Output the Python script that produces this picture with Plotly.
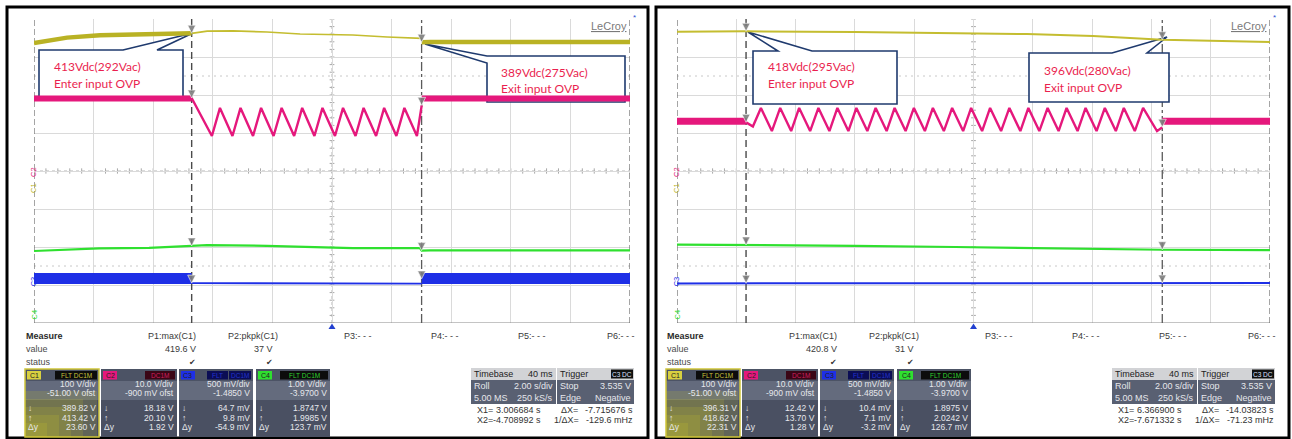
import plotly.graph_objects as go

W, H = 1292, 439
GY0, GY1 = 19, 323
YC = (GY0 + GY1) / 2.0
PPD = (GY1 - GY0) / 8.0

# ---------------- channel settings ----------------
CHANNELS = ["C1", "C2", "C3", "C4"]
VDIV = [100.0, 10.0, 0.5, 1.0]          # V/div
OFFS = [-51.0, -0.9, -1.485, -3.97]     # V offset
COLORS = ["#b9b224", "#e5187c", "#1e2fe6", "#2fe02f"]

# ---------------- left capture (enter 413Vdc / exit 389Vdc) ----------------
L_X1, L_X2 = 3.006684, -4.708992
L_C1_A_T = [-10.0, -8.89, -7.79, -6.68, -5.54, -4.71]
L_C1_A_V = [388.0, 402.0, 408.5, 411.0, 413.0, 413.4]
L_C1_B_T = [-4.71, -4.19, -3.32, -2.18, -1.07, -0.07, 0.70, 1.85, 2.95, 3.01]
L_C1_B_V = [413.4, 419.0, 419.6, 416.8, 411.5, 409.0, 408.9, 403.6, 401.3, 400.0]
L_C1_C_T = [3.01, 3.30, 10.0]
L_C1_C_V = [389.8, 390.5, 390.5]
L_C2_PRE_T = [-10.0, -4.71]
L_C2_PRE_V = [20.0, 20.0]
L_C2_SAW_T = [-4.71, -4.03, -3.76, -3.34, -3.07, -2.65, -2.38, -1.96, -1.69, -1.27, -1.00,
              -0.59, -0.32, 0.10, 0.37, 0.79, 1.06, 1.48, 1.75, 2.16, 2.43, 2.85, 3.01]
L_C2_SAW_V = [20.1, 10.1, 17.5, 10.1, 17.5, 10.1, 17.5, 10.1, 17.5, 10.1, 17.5,
              10.1, 17.5, 10.1, 17.5, 10.1, 17.5, 10.1, 17.5, 10.1, 17.5, 10.1, 18.18]
L_C2_POST_T = [3.01, 10.0]
L_C2_POST_V = [20.0, 20.0]
L_C3_PRE_T = [-10.0, -4.71]
L_C3_PRE_V = [0.07, 0.07]
L_C3_MID_T = [-4.71, 0.0, 3.01]
L_C3_MID_V = [0.0098, 0.004, 0.004]
L_C3_POST_T = [3.01, 10.0]
L_C3_POST_V = [0.07, 0.07]
L_C4_T = [-10.0, -7.82, -6.14, -4.71, -4.19, -2.18, -0.07, 0.70, 2.95, 3.01, 3.30, 10.0]
L_C4_V = [1.865, 1.935, 1.945, 1.9985, 2.02, 2.0, 1.945, 1.94, 1.94, 1.8747, 1.88, 1.88]
L_DOWN = [389.82, 18.18, 0.0647, 1.8747]   # at X1
L_UP = [413.42, 20.10, 0.0098, 1.9985]     # at X2

# ---------------- right capture (enter 418Vdc / exit 396Vdc) ----------------
R_X1, R_X2 = 6.366900, -7.671332
R_C1_T = [-10.0, -7.67, -4.0, -0.62, 1.80, 4.03, 6.37, 10.0]
R_C1_V = [417.5, 418.6, 417.0, 414.2, 411.5, 406.3, 396.3, 390.5]
R_C2_PRE_T = [-10.0, -7.67]
R_C2_PRE_V = [14.0, 14.0]
R_C2_SAW_T = [-7.67, -7.44, -7.17, -6.80, -6.52, -6.15, -5.88, -5.51, -5.23, -4.86, -4.59,
              -4.22, -3.95, -3.58, -3.30, -2.93, -2.66, -2.29, -2.01, -1.64, -1.37, -1.00,
              -0.72, -0.35, -0.08, 0.29, 0.56, 0.93, 1.21, 1.58, 1.85, 2.22, 2.50, 2.87,
              3.14, 3.51, 3.78, 4.15, 4.43, 4.80, 5.07, 5.44, 5.72, 6.19, 6.37]
R_C2_SAW_V = [13.7, 12.6, 17.5, 11.4, 17.5, 11.4, 17.5, 11.4, 17.5, 11.4, 17.5,
              11.4, 17.5, 11.4, 17.5, 11.4, 17.5, 11.4, 17.5, 11.4, 17.5, 11.4,
              17.5, 11.4, 17.5, 11.4, 17.5, 11.4, 17.5, 11.4, 17.5, 11.4, 17.5, 11.4,
              17.5, 11.4, 17.5, 11.4, 17.5, 11.4, 17.5, 11.4, 17.5, 11.4, 12.42]
R_C2_POST_T = [6.37, 10.0]
R_C2_POST_V = [14.0, 14.0]
R_C3_T = [-10.0, -7.67, -4.0, 0.0, 4.0, 6.37, 10.0]
R_C3_V = [0.006, 0.0071, 0.008, 0.010, 0.009, 0.0104, 0.010]
R_C4_T = [-10.0, -7.67, -4.0, -0.62, 1.80, 4.03, 6.37, 10.0]
R_C4_V = [2.035, 2.0242, 2.0, 1.97, 1.945, 1.92, 1.8975, 1.89]
R_DOWN = [396.31, 12.42, 0.0104, 1.8975]
R_UP = [418.62, 13.70, 0.0071, 2.0242]

# ---------------- table texts ----------------
L_MEAS = ["419.6 V", "37 V"]
R_MEAS = ["420.8 V", "31 V"]
VDIV_TXT = ["100 V/div", "10.0 V/div", "500 mV/div", "1.00 V/div"]
OFS_TXT = ["-51.00 V ofst", "-900 mV ofst", "-1.4850 V", "-3.9700 V"]
L_DOWN_TXT = ["389.82 V", "18.18 V", "64.7 mV", "1.8747 V"]
L_UP_TXT = ["413.42 V", "20.10 V", "9.8 mV", "1.9985 V"]
L_DY_TXT = ["23.60 V", "1.92 V", "-54.9 mV", "123.7 mV"]
R_DOWN_TXT = ["396.31 V", "12.42 V", "10.4 mV", "1.8975 V"]
R_UP_TXT = ["418.62 V", "13.70 V", "7.1 mV", "2.0242 V"]
R_DY_TXT = ["22.31 V", "1.28 V", "-3.2 mV", "126.7 mV"]
TB_TXT = ["40 ms", "2.00 s/div", "5.00 MS", "250 kS/s", "3.535 V", "Negative"]
L_CUR_TXT = ["3.006684 s", "-4.708992 s", "-7.715676 s", "-129.6 mHz"]
R_CUR_TXT = ["6.366900 s", "-7.671332 s", "-14.03823 s", "-71.23 mHz"]
L_NOTES = [("413Vdc(292Vac)", "Enter input OVP"), ("389Vdc(275Vac)", "Exit input OVP")]
R_NOTES = [("418Vdc(295Vac)", "Enter input OVP"), ("396Vdc(280Vac)", "Exit input OVP")]


def to_div(ch, vals):
    i = CHANNELS.index(ch)
    return [(v + OFFS[i]) / VDIV[i] for v in vals]


def X(px):
    return px / W


def Y(py):
    return 1 - py / H


fig = go.Figure()
shapes = []
annos = []


def rect(x0, y0, x1, y1, fill, line=None, lw=0):
    shapes.append(dict(type='rect', xref='paper', yref='paper', x0=X(x0), x1=X(x1),
                       y0=Y(y1), y1=Y(y0), fillcolor=fill,
                       line=dict(color=line if line else 'rgba(0,0,0,0)', width=lw), layer='above'))


def text(x, y, s, size=8.5, color='#e6e7ec', anchor='left', family='Liberation Sans',
         bold=False, angle=0):
    annos.append(dict(xref='paper', yref='paper', x=X(x), y=Y(y),
                      text=('<b>%s</b>' % s) if bold else s, showarrow=False,
                      xanchor=anchor, yanchor='middle', textangle=angle, borderpad=0,
                      font=dict(size=size, color=color, family=family)))


def line_tr(xa, ya, t, v, color, width, dash=None):
    fig.add_trace(go.Scatter(x=t, y=v, mode='lines', xaxis=xa, yaxis=ya,
                             line=dict(color=color, width=width, dash=dash),
                             hoverinfo='skip', showlegend=False))


panels = [
    dict(gx0=34, gx1=630, dx=0, fx=(7, 648), xa='x', ya='y', X1=L_X1, X2=L_X2, down=L_DOWN, up=L_UP,
         meas=L_MEAS, dtx=L_DOWN_TXT, utx=L_UP_TXT, dytx=L_DY_TXT, cur=L_CUR_TXT,
         notes=L_NOTES,
         boxes=[dict(path=[(39, 50), (123, 50), (193, 33), (157, 50), (183, 50), (183, 98), (39, 98)],
                     tx=53, ty=(67, 83)),
                dict(path=[(487, 56), (625, 56), (625, 102), (487, 102), (487, 63), (425, 44)],
                     tx=500, ty=(72, 88))]),
    dict(gx0=677, gx1=1270, dx=641, fx=(656, 1289), xa='x2', ya='y2', X1=R_X1, X2=R_X2, down=R_DOWN, up=R_UP,
         meas=R_MEAS, dtx=R_DOWN_TXT, utx=R_UP_TXT, dytx=R_DY_TXT, cur=R_CUR_TXT,
         notes=R_NOTES,
         boxes=[dict(path=[(753, 51), (778, 51), (748, 32), (812, 51), (897, 51), (897, 104), (753, 104)],
                     tx=767, ty=(67, 83)),
                dict(path=[(1029, 53), (1112, 53), (1167, 37), (1147, 53), (1169, 53), (1169, 102), (1029, 102)],
                     tx=1043, ty=(70, 87))]),
]

# ---------------- traces ----------------
Y_, P_, B_, G_ = COLORS
line_tr('x', 'y', L_C1_A_T, to_div('C1', L_C1_A_V), Y_, 4.5)
line_tr('x', 'y', L_C1_B_T, to_div('C1', L_C1_B_V), '#c4bd30', 1.7)
line_tr('x', 'y', L_C1_C_T, to_div('C1', L_C1_C_V), Y_, 4.5)
line_tr('x', 'y', L_C2_PRE_T, to_div('C2', L_C2_PRE_V), P_, 6)
line_tr('x', 'y', L_C2_SAW_T, to_div('C2', L_C2_SAW_V), P_, 2.4)
line_tr('x', 'y', L_C2_POST_T, to_div('C2', L_C2_POST_V), P_, 6)
line_tr('x', 'y', L_C4_T, to_div('C4', L_C4_V), G_, 2.2)
line_tr('x', 'y', L_C3_PRE_T, to_div('C3', L_C3_PRE_V), B_, 11)
line_tr('x', 'y', L_C3_MID_T, to_div('C3', L_C3_MID_V), B_, 1.8)
line_tr('x', 'y', L_C3_POST_T, to_div('C3', L_C3_POST_V), B_, 11)

line_tr('x2', 'y2', R_C1_T, to_div('C1', R_C1_V), '#c4bd30', 2)
line_tr('x2', 'y2', R_C2_PRE_T, to_div('C2', R_C2_PRE_V), P_, 7)
line_tr('x2', 'y2', R_C2_SAW_T, to_div('C2', R_C2_SAW_V), P_, 2.4)
line_tr('x2', 'y2', R_C2_POST_T, to_div('C2', R_C2_POST_V), P_, 7)
line_tr('x2', 'y2', R_C4_T, to_div('C4', R_C4_V), G_, 2.2)
line_tr('x2', 'y2', R_C3_T, to_div('C3', R_C3_V), B_, 2)

# cursor markers at the trace crossings
for p in panels:
    for i, ch in enumerate(CHANNELS):
        fig.add_trace(go.Scatter(x=[p['X2'], p['X1']],
                                 y=to_div(ch, [p['up'][i], p['down'][i]]),
                                 mode='markers', xaxis=p['xa'], yaxis=p['ya'],
                                 marker=dict(symbol='arrow-down', size=8, color='rgba(125,125,125,0.9)',
                                             line=dict(color='white', width=0.6)),
                                 hoverinfo='skip', showlegend=False))

# ---------------- per panel decorations ----------------
for p in panels:
    xa, ya = p['xa'], p['ya']
    gx0, gx1, dx = p['gx0'], p['gx1'], p['dx']

    def T(px):
        return (px - gx0) / (gx1 - gx0) * 20.0 - 10.0

    def D(py):
        return (YC - py) / PPD

    # frame
    shapes.append(dict(type='rect', xref='paper', yref='paper', x0=X(p['fx'][0]), x1=X(p['fx'][1]),
                       y0=Y(438), y1=Y(7), line=dict(color='black', width=3), layer='above'))
    # dotted reference lines and centre lines
    for d in (2.5, -2.5):
        shapes.append(dict(type='line', xref=xa, yref=ya, x0=-10, x1=10, y0=d, y1=d,
                           line=dict(color='#c8c8c8', width=1, dash='2px,4px'), layer='below'))
    shapes.append(dict(type='line', xref=xa, yref=ya, x0=-10, x1=10, y0=0, y1=0,
                       line=dict(color='#b5b5b5', width=1, dash='3px,3px'), layer='below'))
    shapes.append(dict(type='line', xref=xa, yref=ya, x0=0, x1=0, y0=-4, y1=4,
                       line=dict(color='#b5b5b5', width=1, dash='3px,3px'), layer='below'))
    path = ""
    for k in range(51):
        t = -10 + 0.4 * k
        path += "M%.3f,-0.07L%.3f,0.07" % (t, t)
    for k in range(41):
        d = -4 + 0.2 * k
        path += "M-0.08,%.3fL0.08,%.3f" % (d, d)
    shapes.append(dict(type='path', xref=xa, yref=ya, path=path,
                       line=dict(color='#a8a8a8', width=1), layer='below'))
    # grid edges
    shapes.append(dict(type='line', xref=xa, yref=ya, x0=-10, x1=10, y0=-4, y1=-4,
                       line=dict(color='#8a8a8a', width=1.2), layer='between'))
    for e in (-10, 10):
        shapes.append(dict(type='line', xref=xa, yref=ya, x0=e, x1=e, y0=-4, y1=4,
                           line=dict(color='#6a6a6a', width=1.2, dash='6px,3px'), layer='between'))
    # cursors
    shapes.append(dict(type='line', xref=xa, yref=ya, x0=p['X2'], x1=p['X2'], y0=-4, y1=4,
                       line=dict(color='#4a4a4a', width=1.4, dash='7px,4px'), layer='between'))
    shapes.append(dict(type='line', xref=xa, yref=ya, x0=p['X1'], x1=p['X1'], y0=-4, y1=4,
                       line=dict(color='#5a5a5a', width=1.3, dash='dashdot'), layer='between'))
    # call-out boxes
    for b in p['boxes']:
        pts = b['path']
        sp = "M%.4f,%.4f" % (T(pts[0][0]), D(pts[0][1]))
        for (qx, qy) in pts[1:]:
            sp += "L%.4f,%.4f" % (T(qx), D(qy))
        sp += "Z"
        shapes.append(dict(type='path', xref=xa, yref=ya, path=sp, fillcolor='white',
                           line=dict(color='#1f3a6e', width=1.6), layer='between'))
    for b, (l1, l2) in zip(p['boxes'], p['notes']):
        text(b['tx'], b['ty'][0], l1, size=12, color='#ea1f4f', family='Lato')
        text(b['tx'], b['ty'][1], l2, size=12, color='#ea1f4f', family='Lato')

    # channel ground markers on left edge
    for i, ch in enumerate(CHANNELS):
        gy = YC - (OFFS[i] / VDIV[i]) * PPD
        text(gx0 - 6, min(gy - 2, 315), ch, size=7.5, color=COLORS[i], angle=-90)

    # trigger position marker
    cx = (gx0 + gx1) / 2.0
    shapes.append(dict(type='path', xref='paper', yref='paper',
                       path="M%.5f,%.5fL%.5f,%.5fL%.5f,%.5fZ" % (X(cx - 3.5), Y(329), X(cx + 3.5), Y(329), X(cx), Y(323.5)),
                       fillcolor='#2240d0', line=dict(width=0), layer='above'))
    # logo
    text(gx1 - 2, 26, "<u>LeCroy</u>", size=11, color='#7a7a7a', anchor='right')
    text(gx1 + 2, 18, "*", size=8, color='#3050d0')

    # ---------------- measurement table ----------------
    text(25 + dx, 336, "Measure", size=9, color='#2a2a2a', bold=True)
    text(25 + dx, 349, "value", size=9, color='#4a4a4a')
    text(25 + dx, 362, "status", size=9, color='#4a4a4a')
    text(197 + dx, 336, "P1:max(C1)", size=9, color='#3a3a3a', anchor='right')
    text(197 + dx, 349, p['meas'][0], size=9, color='#3a3a3a', anchor='right')
    text(192 + dx, 362, "✔", size=8, color='#333', anchor='center', family='DejaVu Sans')
    text(279 + dx, 336, "P2:pkpk(C1)", size=9, color='#3a3a3a', anchor='right')
    text(274 + dx, 349, p['meas'][1], size=9, color='#3a3a3a', anchor='right')
    text(269 + dx, 362, "✔", size=8, color='#333', anchor='center', family='DejaVu Sans')
    for k, xx in zip(range(3, 7), (343, 430, 517, 606)):
        text(xx + dx, 336, "P%d:- - -" % k, size=9, color='#3a3a3a')

    # channel boxes
    bx = [(25, 99), (101, 177), (179, 253), (256, 330)]
    tagc = ['#d8d040', '#e5187c', '#1e2fe6', '#2fe02f']
    for i, (a, b) in enumerate(bx):
        a += dx
        b += dx
        rect(a, 369, b, 381, '#4c5365')
        rect(a, 381, b, 400, '#646b7d')
        rect(a, 400, b, 437, '#4a5062')
        if i == 0:
            for (w, h) in [(72, 46), (58, 38), (46, 30), (34, 22), (22, 14)]:
                rect(a, 437 - h, a + w, 437, 'rgba(214,204,40,0.16)')
            shapes.append(dict(type='rect', xref='paper', yref='paper', x0=X(a), x1=X(b),
                               y0=Y(437), y1=Y(369), line=dict(color='#cfc63a', width=1.5), layer='above'))
        rect(a + 2, 371, a + 16, 379.5, tagc[i])
        text(a + 9, 375, CHANNELS[i], size=7, color='#222', anchor='center')
        if i == 0:
            rect(a + 30, 371, a + 72, 379.5, '#0c0c0c')
            text(a + 51, 375, "FLT DC1M", size=6.5, color='#c9c23c', anchor='center')
        elif i == 1:
            rect(a + 44, 371, a + 74, 379.5, '#3a0616')
            text(a + 59, 375, "DC1M", size=6.5, color='#d0205e', anchor='center')
        elif i == 2:
            rect(a + 28, 371, a + 49, 379.5, '#0b0d55')
            rect(a + 50, 371, a + 72, 379.5, '#0b0d55')
            text(a + 38.5, 375, "FLT", size=6.5, color='#2233cc', anchor='center')
            text(a + 61, 375, "DC1M", size=6.5, color='#2233cc', anchor='center')
        else:
            rect(a + 24, 371, a + 72, 379.5, '#0c0c0c')
            text(a + 48, 375, "FLT DC1M", size=6.5, color='#2fd02f', anchor='center')
        text(b - 2, 384, VDIV_TXT[i], anchor='right')
        text(b - 2, 393, OFS_TXT[i], anchor='right')
        text(a + 2, 408, "↓", anchor='left')
        text(a + 2, 417.5, "↑", anchor='left')
        text(a + 2, 427, "Δy", anchor='left')
        text(b - 2, 408, p['dtx'][i], anchor='right')
        text(b - 2, 417.5, p['utx'][i], anchor='right')
        text(b - 2, 427, p['dytx'][i], anchor='right')

    # timebase / trigger boxes
    rect(471 + dx, 368, 556 + dx, 380, '#d2d3d6')
    rect(471 + dx, 380, 556 + dx, 404, '#596072')
    text(473 + dx, 374, "Timebase", size=9, color='#222')
    text(554 + dx, 374, TB_TXT[0], size=9, color='#222', anchor='right')
    text(473 + dx, 386, "Roll", size=9)
    text(554 + dx, 386, TB_TXT[1], size=9, anchor='right')
    text(473 + dx, 398, TB_TXT[2], size=9)
    text(554 + dx, 398, TB_TXT[3], size=9, anchor='right')
    rect(557 + dx, 368, 634 + dx, 380, '#d2d3d6')
    rect(557 + dx, 380, 634 + dx, 404, '#596072')
    rect(611 + dx, 369.5, 633 + dx, 378.5, '#101010')
    text(559 + dx, 374, "Trigger", size=9, color='#222')
    text(622 + dx, 374, "C3 DC", size=6.5, color='#dfe0ff', anchor='center')
    text(559 + dx, 386, "Stop", size=9)
    text(632 + dx, 386, TB_TXT[4], size=9, anchor='right')
    text(559 + dx, 398, "Edge", size=9)
    text(632 + dx, 398, TB_TXT[5], size=9, anchor='right')
    text(476 + dx, 409.5, "X1=", size=9, color='#333')
    text(542 + dx, 409.5, p['cur'][0], size=9, color='#333', anchor='right')
    text(476 + dx, 419.5, "X2=", size=9, color='#333')
    text(542 + dx, 419.5, p['cur'][1], size=9, color='#333', anchor='right')
    text(560 + dx, 409.5, "ΔX=", size=9, color='#333')
    text(634 + dx, 409.5, p['cur'][2], size=9, color='#333', anchor='right')
    text(553 + dx, 419.5, "1/ΔX=", size=9, color='#333')
    text(634 + dx, 419.5, p['cur'][3], size=9, color='#333', anchor='right')

ax_common = dict(showgrid=True, gridcolor='#dadada', gridwidth=1, zeroline=False,
                 showticklabels=False, ticks='', showline=False, fixedrange=True)
fig.update_layout(
    width=W, height=H, margin=dict(l=0, r=0, t=0, b=0), autosize=False,
    paper_bgcolor='white', plot_bgcolor='white', showlegend=False,
    xaxis=dict(domain=[X(34), X(630)], range=[-10, 10], dtick=2, tick0=-10, anchor='y', **ax_common),
    yaxis=dict(domain=[Y(GY1), Y(GY0)], range=[-4, 4], dtick=1, tick0=-4, anchor='x', **ax_common),
    xaxis2=dict(domain=[X(677), X(1270)], range=[-10, 10], dtick=2, tick0=-10, anchor='y2', **ax_common),
    yaxis2=dict(domain=[Y(GY1), Y(GY0)], range=[-4, 4], dtick=1, tick0=-4, anchor='x2', **ax_common),
    shapes=shapes, annotations=annos,
)
fig.write_html("out.html", config={'displayModeBar': False},
               post_script="document.body.style.margin='0';document.body.style.overflow='hidden';")
